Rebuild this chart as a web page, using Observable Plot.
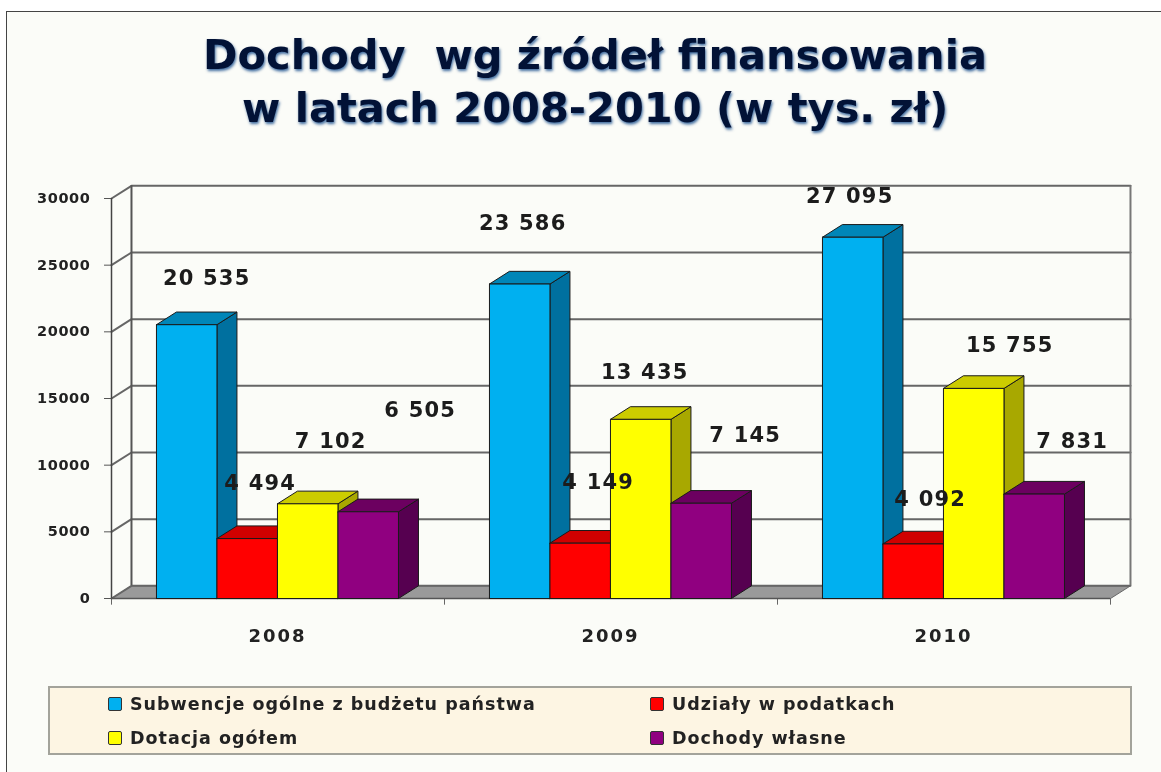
<!DOCTYPE html>
<html lang="pl"><head><meta charset="utf-8">
<script src="https://cdn.jsdelivr.net/npm/d3@7"></script>
<script src="https://cdn.jsdelivr.net/npm/@observablehq/plot@0.6"></script>
<style>
html,body{margin:0;padding:0;background:#fff;overflow:hidden}
body{width:1161px;height:772px;position:relative;font-family:"DejaVu Sans",sans-serif;color:#222}
#frame{position:absolute;left:6px;top:11px;right:0;bottom:0;background:#fbfcf8;border-left:1px solid #444;border-top:1px solid #444}
#title{position:absolute;left:0;top:28px;width:1190px;text-align:center;font:bold 41.5px/53px "DejaVu Sans",sans-serif;color:#021236;text-shadow:1px 2px 3px rgba(0,60,130,.75);white-space:pre;filter:blur(.4px)}
#chart{position:absolute;left:0;top:170px;filter:blur(.55px)}
#chart g[aria-label="text"] text{letter-spacing:1.2px}
#chart g[aria-label="x-axis tick label"] text{letter-spacing:2px}
#chart g[aria-label="y-axis tick label"] text{letter-spacing:.6px}
#legend{position:absolute;left:48px;top:686px;width:1080px;height:65px;background:#fdf5e3;border:2px solid #a3a39b;font:bold 17.5px "DejaVu Sans",sans-serif;letter-spacing:1px;filter:blur(.4px)}
.item{position:absolute;white-space:nowrap;line-height:20px}
.item i{position:absolute;left:-22px;top:3px;width:12px;height:12px;border:1px solid #333;border-radius:2px}
</style></head><body>
<div id="frame"></div>
<div id="title"></div>
<div id="chart"></div>
<div id="legend"></div>
<script>
const titleLines = ["Dochody  wg źródeł finansowania", "w latach 2008-2010 (w tys. zł)"];
const years = ["2008", "2009", "2010"];
const seriesNames = ["Subwencje ogólne z budżetu państwa", "Udziały w podatkach", "Dotacja ogółem", "Dochody własne"];
const subwencje = [20535, 23586, 27095];
const udzialy = [4494, 4149, 4092];
const dotacja = [7102, 13435, 15755];
const wlasne = [6505, 7145, 7831];
const seriesValues = [subwencje, udzialy, dotacja, wlasne];
const yTicks = [0, 5000, 10000, 15000, 20000, 25000, 30000];

// styling / layout, separate from the data
const frontColors = ["#00b0f0", "#ff0000", "#ffff00", "#900080"];
const sideColors = ["#00709f", "#b00000", "#a8a800", "#560050"];
const topColors = ["#0086b8", "#d00000", "#cccc00", "#6c0060"];
const labelNudge = [ // [dx, dy] px by series, year
  [[20, -46], [3, -61], [-3, -41]],
  [[13, -55], [18, -61], [17, -45]],
  [[23, -63], [4, -47], [36, -43]],
  [[52, -102], [44, -68], [38, -53]]
];
const groupLead = 0.135, barW = 0.1817, depthX = 0.06, depthY = 950;

document.getElementById("title").textContent = titleLines.join("\n");

const faces = [];
const addFace = (id, fill, pts) => [...pts, pts[0]].forEach(([x, y]) => faces.push({id, fill, x, y}));
const labels = [];
years.forEach((year, g) => seriesValues.forEach((vals, s) => {
  const x0 = g + groupLead + s * barW, x1 = x0 + barW, v = vals[g];
  addFace(`${g}-${s}-side`, sideColors[s], [[x1, 0], [x1 + depthX, depthY], [x1 + depthX, v + depthY], [x1, v]]);
  addFace(`${g}-${s}-top`, topColors[s], [[x0, v], [x0 + depthX, v + depthY], [x1 + depthX, v + depthY], [x1, v]]);
  addFace(`${g}-${s}-front`, frontColors[s], [[x0, 0], [x0, v], [x1, v], [x1, 0]]);
  labels.push({x: (x0 + x1) / 2, y: v, text: String(v).replace(/\B(?=(\d{3})+$)/g, " "), nudge: labelNudge[s][g]});
}));

const groupCount = years.length;
const wallLines = yTicks.map(t => [[0, t], [depthX, t + depthY], [groupCount + depthX, t + depthY]]);
const gridRows = wallLines.flatMap((pts, i) => pts.map(([x, y]) => ({id: i, x, y})));
const yTop = yTicks[yTicks.length - 1];
const floorPts = [[0, 0], [depthX, depthY], [groupCount + depthX, depthY], [groupCount, 0], [0, 0]].map(([x, y]) => ({x, y}));
const yearTicks = d3.range(groupCount + 1);

const axisFont = {fontFamily: "DejaVu Sans", fontWeight: "bold", fill: "#222"};
const chartSvg = Plot.plot({
  width: 1161, height: 500,
  marginLeft: 111, marginRight: 51, marginTop: 28, marginBottom: 72,
  style: {background: "transparent", overflow: "visible"},
  x: {domain: [0, groupCount], axis: null},
  y: {domain: [0, yTop], axis: null},
  marks: [
    Plot.line(floorPts, {x: "x", y: "y", fill: "#9a9a9a", stroke: "#666", strokeWidth: 1}),
    Plot.line(gridRows, {x: "x", y: "y", z: "id", stroke: "#666", strokeWidth: 2}),
    Plot.ruleX([depthX], {y1: depthY, y2: yTop + depthY, stroke: "#555", strokeWidth: 2}),
    Plot.ruleX([groupCount + depthX], {y1: depthY, y2: yTop + depthY, stroke: "#777", strokeWidth: 2}),
    Plot.ruleX([0], {y1: 0, y2: yTop, stroke: "#444", strokeWidth: 1.5}),
    Plot.ruleX(yearTicks, {y1: 0, y2: -500, stroke: "#666", strokeWidth: 1}),
    Plot.ruleY([0], {x1: 0, x2: groupCount, stroke: "#555", strokeWidth: 1.5}),
    Plot.line(faces, {x: "x", y: "y", z: "id", fill: "fill", stroke: "#1a1a1a", strokeWidth: 1, strokeLinejoin: "round"}),
    Plot.axisY({anchor: "left", label: null, ticks: yTicks, tickFormat: "d", tickSize: 7, tickPadding: 14, stroke: "#555", fontSize: 14.5, ...axisFont}),
    Plot.axisX({anchor: "bottom", label: null, ticks: years.map((_, i) => i + 0.5), tickFormat: d => years[d - 0.5], tickSize: 0, tickPadding: 31, dx: -0.5, fontSize: 18, ...axisFont}),
    ...labels.map(d => Plot.text([d], {
      x: "x", y: "y", text: "text", dx: d.nudge[0], dy: d.nudge[1],
      fontSize: 21, fontWeight: "bold", fontFamily: "DejaVu Sans", fill: "#1c1c1c"
    }))
  ]
});
document.getElementById("chart").append(chartSvg);

const legendBox = document.getElementById("legend");
const spots = [[80, 6], [622, 6], [80, 40], [622, 40]];
seriesNames.forEach((name, i) => {
  const el = document.createElement("div");
  el.className = "item";
  el.style.left = spots[i][0] + "px";
  el.style.top = spots[i][1] + "px";
  const sw = document.createElement("i");
  sw.style.background = frontColors[i];
  el.append(sw, name);
  legendBox.append(el);
});
</script>
</body></html>
